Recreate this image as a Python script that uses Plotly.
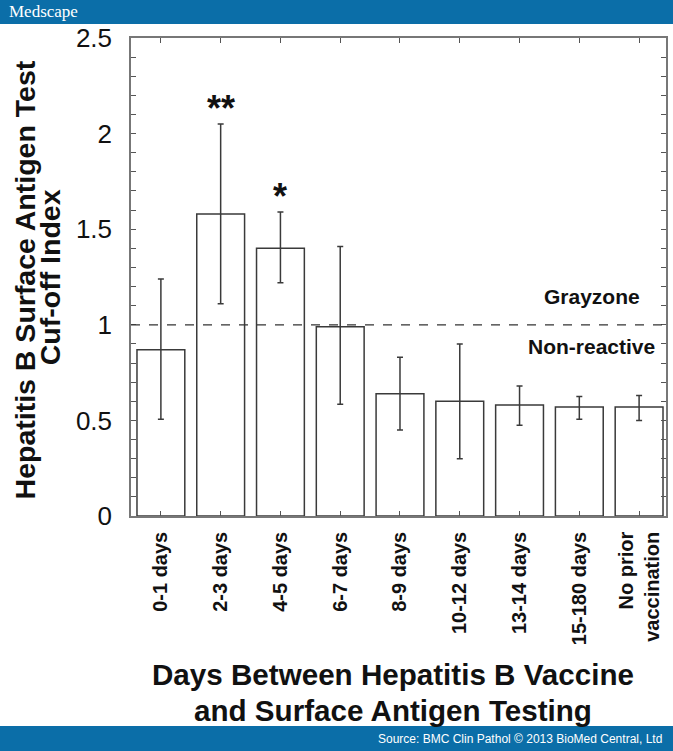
import plotly.graph_objects as go

categories = ["0-1 days", "2-3 days", "4-5 days", "6-7 days", "8-9 days",
              "10-12 days", "13-14 days", "15-180 days", "No prior<br>vaccination"]
means = [0.87, 1.58, 1.40, 0.99, 0.64, 0.60, 0.58, 0.57, 0.57]
upper = [1.24, 2.05, 1.59, 1.41, 0.83, 0.90, 0.68, 0.625, 0.63]
lower = [0.506, 1.11, 1.22, 0.585, 0.45, 0.30, 0.475, 0.506, 0.50]
significance = ["", "**", "*", "", "", "", "", "", ""]
y_ticks = [0, 0.5, 1, 1.5, 2, 2.5]
y_tick_labels = ["0", "0.5", "1", "1.5", "2", "2.5"]
cutoff = 1.0

err_plus = [u - m for u, m in zip(upper, means)]
err_minus = [m - l for m, l in zip(means, lower)]
xs = list(range(len(categories)))

FONT = "Arial, Liberation Sans, sans-serif"
BLUE = "#0b6ea8"
INK = "#111111"

fig = go.Figure()
fig.add_trace(go.Bar(
    x=xs, y=means, width=0.8,
    marker=dict(color="white", line=dict(color="#3a3a3a", width=1.5)),
    error_y=dict(type="data", symmetric=False, array=err_plus, arrayminus=err_minus,
                 color="#3a3a3a", thickness=1.5, width=3),
    showlegend=False, hoverinfo="skip",
))

for i, s in enumerate(significance):
    if s:
        fig.add_annotation(x=i, y=upper[i], text="<b>" + s + "</b>", showarrow=False,
                           xanchor="center", yanchor="bottom", yshift=-7,
                           font=dict(family=FONT, size=36, color=INK))

fig.add_shape(type="line", xref="paper", yref="y", x0=0, x1=1, y0=cutoff, y1=cutoff,
              line=dict(color="#333", width=1.2, dash="dash"))

fig.add_annotation(xref="paper", yref="paper", x=0.861, y=0.460, text="<b>Grayzone</b>",
                   xanchor="center", yanchor="middle",
                   showarrow=False, font=dict(family=FONT, size=21, color=INK))
fig.add_annotation(xref="paper", yref="paper", x=0.861, y=0.354, text="<b>Non-reactive</b>",
                   xanchor="center", yanchor="middle",
                   showarrow=False, font=dict(family=FONT, size=21, color=INK))

# header / footer bands
fig.add_shape(type="rect", xref="paper", yref="paper", x0=-0.26, x1=1.02, y0=1.0293, y1=1.09,
              fillcolor=BLUE, line=dict(width=0), layer="above")
fig.add_shape(type="rect", xref="paper", yref="paper", x0=-0.26, x1=1.02, y0=-0.5, y1=-0.4393,
              fillcolor=BLUE, line=dict(width=0), layer="above")
fig.add_annotation(xref="paper", yref="paper", x=-0.232, y=1.0544, xanchor="left", yanchor="middle",
                   text="Medscape", showarrow=False,
                   font=dict(family="Liberation Serif, DejaVu Serif, serif", size=17, color="white"))
fig.add_annotation(xref="paper", yref="paper", x=0.997, y=-0.4665, xanchor="right", yanchor="middle",
                   text="Source: BMC Clin Pathol © 2013 BioMed Central, Ltd", showarrow=False,
                   font=dict(family=FONT, size=12, color="white"))

# axis titles
fig.add_annotation(xref="paper", yref="paper", x=-0.199, y=0.494, textangle=-90,
                   xanchor="center", yanchor="middle",
                   text="<b>Hepatitis B Surface Antigen Test</b>", showarrow=False,
                   font=dict(family=FONT, size=28.5, color=INK))
fig.add_annotation(xref="paper", yref="paper", x=-0.151, y=0.50, textangle=-90,
                   xanchor="center", yanchor="middle",
                   text="<b>Cuf-off Index</b>", showarrow=False,
                   font=dict(family=FONT, size=28.5, color=INK))
fig.add_annotation(xref="paper", yref="paper", x=0.49, y=-0.3326,
                   xanchor="center", yanchor="middle",
                   text="<b>Days Between Hepatitis B Vaccine</b>",
                   showarrow=False, font=dict(family=FONT, size=29.6, color=INK))
fig.add_annotation(xref="paper", yref="paper", x=0.49, y=-0.406,
                   xanchor="center", yanchor="middle",
                   text="<b>and Surface Antigen Testing</b>",
                   showarrow=False, font=dict(family=FONT, size=29.6, color=INK))

fig.update_xaxes(
    range=[-0.5, 8.45], tickmode="array", tickvals=xs, ticktext=["<b>" + c + "</b>" for c in categories],
    tickangle=-90, ticks="inside", ticklen=5, tickcolor="#555", mirror="ticks",
    showline=True, linecolor="#777", linewidth=1.5, showgrid=False, zeroline=False,
    tickfont=dict(family=FONT, size=20, color=INK), ticklabelstandoff=6,
)
fig.update_yaxes(
    range=[0, 2.5], tickmode="array", tickvals=y_ticks, ticktext=y_tick_labels,
    ticks="inside", ticklen=5, tickcolor="#555", mirror="ticks",
    minor=dict(dtick=0.1, ticks="inside", ticklen=5, tickcolor="#555"),
    showline=True, linecolor="#777", linewidth=1.5, showgrid=False, zeroline=False,
    tickfont=dict(family=FONT, size=26, color=INK), ticklabelstandoff=12,
)
fig.update_layout(
    width=673, height=751, margin=dict(l=131, r=5, t=38, b=235),
    paper_bgcolor="white", plot_bgcolor="white", bargap=0.2,
)
fig.write_html("out.html", config={"displayModeBar": False},
               post_script="document.body.style.margin='0';")
